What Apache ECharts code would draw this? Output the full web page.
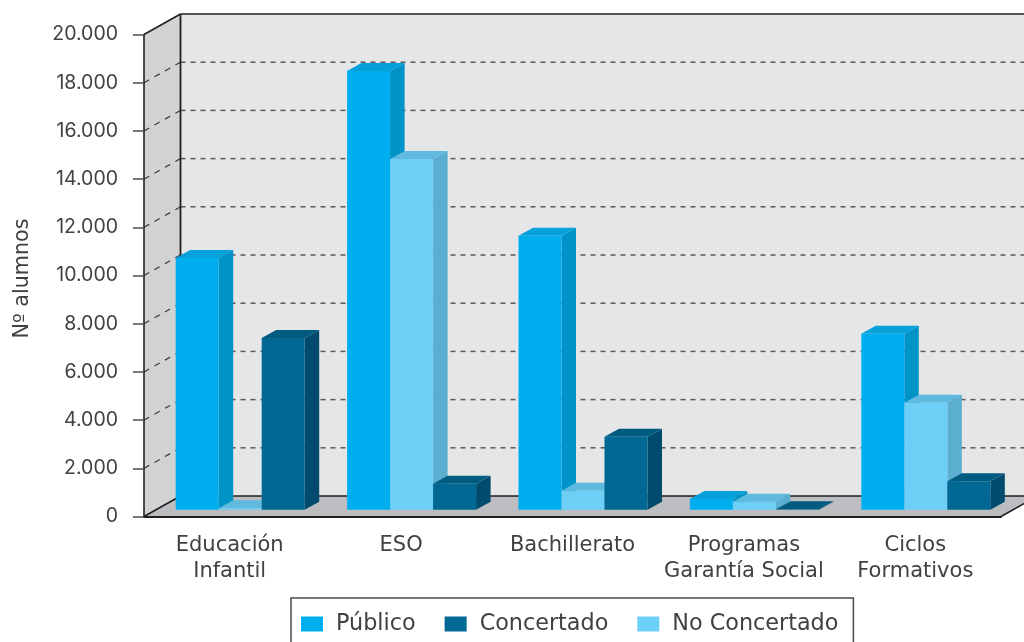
<!DOCTYPE html>
<html>
<head>
<meta charset="utf-8">
<style>html,body{margin:0;padding:0;background:#fff}#c{width:1024px;height:642px}</style>
<script src="https://cdn.jsdelivr.net/npm/echarts@6/dist/echarts.min.js"></script>
</head>
<body>
<div id="c"></div>
<script>
const categories = ['Educación\nInfantil', 'ESO', 'Bachillerato', 'Programas\nGarantía Social', 'Ciclos\nFormativos'];
const seriesNames = ['Público', 'Concertado', 'No Concertado'];
const publico = [10450, 18210, 11370, 450, 7300];
const concertado = [7130, 1080, 3030, 20, 1180];
const noConcertado = [60, 14560, 790, 330, 4440];
const yTicks = [2000, 4000, 6000, 8000, 10000, 12000, 14000, 16000, 18000];

const FONT = '"DejaVu Sans"';
const NUMFONT = 'Inter';
const TEXT = '#414042';
const DARK = '#231f20';
const DX = 36.5, DY = 20.5;      // box depth
const BAR_DX = 10.5, BAR_DY = 6.7; // bar front-face inset
const BD_X = 14.5, BD_Y = 8;     // bar depth

function pts(a){ return {points:a}; }

function renderWalls(params, api) {
  const cs = params.coordSys;
  const l = cs.x, r = cs.x + cs.width, t = cs.y, b = cs.y + cs.height;
  const kids = [];
  const poly = (p, fill) => kids.push({type:'polygon', shape:pts(p), style:{fill}, silent:true});
  const line = (x1,y1,x2,y2,stroke,w,dash) => kids.push({type:'line', silent:true,
    shape:{x1,y1,x2,y2}, style:{stroke, lineWidth:w, lineDash:dash||null, fill:null}});
  poly([[l+DX,t-DY],[r+DX,t-DY],[r+DX,b-DY],[l+DX,b-DY]], '#e5e6e8');
  poly([[l,t],[l+DX,t-DY],[l+DX,b-DY],[l,b]], '#d1d2d4');
  poly([[l,b],[r,b],[r+DX,b-DY],[l+DX,b-DY]], '#bcbdc0');
  yTicks.forEach(v => {
    const y = api.coord([0, v])[1];
    line(l, y, l+DX, y-DY, '#3a3a3c', 1.2, [6,6]);
    line(l+DX, y-DY, r+DX, y-DY, '#58595b', 1.5, [5,5]);
  });
  line(l, t, l+DX, t-DY, DARK, 1.6);
  line(l+DX, t-DY, r+DX, t-DY, DARK, 1.6);
  line(l+DX, t-DY, l+DX, b-DY, DARK, 1.8);
  line(l+DX, b-DY, r+DX, b-DY, DARK, 1.6);
  line(l, b, l+DX, b-DY, DARK, 1.6);
  line(r, b, r+DX, b-DY, DARK, 1.6);
  return {type:'group', children:kids};
}

const slots = {'Público':0, 'No Concertado':1, 'Concertado':2};
const shades = {
  'Público':       {front:'#00aeef', top:'#06a0da', side:'#0093c7'},
  'No Concertado': {front:'#6dcff6', top:'#60b9de', side:'#5baed0'},
  'Concertado':    {front:'#006892', top:'#005b80', side:'#004b6e'}
};

function renderBar(params, api) {
  const name = params.seriesName;
  const c = shades[name];
  const idx = api.value(0);
  const base = api.coord([idx, 0]);
  const top = api.coord([idx, api.value(1)]);
  const w = api.size([1, 0])[0] * 0.2509;
  const x0 = base[0] + BAR_DX + (slots[name] - 1.5) * w;
  const x1 = x0 + w;
  const yb = base[1] - BAR_DY;
  const yt = top[1] - BAR_DY;
  return {type:'group', silent:true, children:[
    {type:'polygon', shape:pts([[x1,yb],[x1+BD_X,yb-BD_Y],[x1+BD_X,yt-BD_Y],[x1,yt]]), style:{fill:c.side}},
    {type:'polygon', shape:pts([[x0,yt],[x0+BD_X,yt-BD_Y],[x1+BD_X,yt-BD_Y],[x1,yt]]), style:{fill:c.top}},
    {type:'rect', shape:{x:x0, y:yt, width:w, height:yb-yt}, style:{fill:c.front}}
  ]};
}

const pairs = arr => arr.map((v,i) => [i, v]);
const barSeries = (name, values) => ({
  type:'custom', name, renderItem:renderBar, data:pairs(values),
  encode:{x:0, y:1}, z:3, animation:false, silent:true,
  itemStyle:{color:shades[name].front}
});

const chart = echarts.init(document.getElementById('c'), null, {renderer:'canvas'});
chart.setOption({
  animation:false,
  backgroundColor:'#fff',
  textStyle:{fontFamily:FONT},
  grid:{left:144, top:34.5, width:857, height:482, containLabel:false, outerBoundsMode:'none'},
  legend:{
    data:seriesNames.map(n => ({name:n, icon:'rect'})),
    left:291, top:598, orient:'horizontal', selectedMode:false,
    itemWidth:22, itemHeight:15, itemGap:29,
    padding:[15,15,40,10], borderColor:'#4d4d4f', borderWidth:1.5,
    textStyle:{fontFamily:FONT, fontSize:22.3, color:TEXT, padding:[0,0,0,8]}
  },
  xAxis:{
    type:'category', data:categories, boundaryGap:true,
    axisLine:{lineStyle:{color:DARK, width:2}},
    axisTick:{length:7, alignWithLabel:false, lineStyle:{color:DARK, width:1.3}},
    axisLabel:{fontFamily:FONT, fontSize:21, color:TEXT, margin:16, lineHeight:26, interval:0},
    splitLine:{show:false}
  },
  yAxis:{
    type:'value', min:0, max:20000, interval:2000,
    name:'Nº alumnos', nameLocation:'middle', nameGap:111, nameRotate:90,
    nameTextStyle:{fontFamily:FONT, fontSize:20.7, color:TEXT, padding:[0,6,0,0]},
    axisLine:{show:true, lineStyle:{color:DARK, width:1.6}},
    axisTick:{show:true, length:11, lineStyle:{color:'#4d4d4f', width:1.5}},
    axisLabel:{fontFamily:NUMFONT, fontSize:19.5, color:TEXT, margin:26, padding:[2,0,0,0],
      formatter:v => v === 0 ? '0' : String(v).replace(/(\d)(?=(\d{3})$)/, '$1.')},
    splitLine:{show:false}
  },
  series:[
    {type:'custom', name:'walls', renderItem:renderWalls, data:[[0,0]], encode:{x:0,y:1}, z:-1, silent:true},
    barSeries('Público', publico),
    barSeries('No Concertado', noConcertado),
    barSeries('Concertado', concertado)
  ]
});
</script>
</body>
</html>
